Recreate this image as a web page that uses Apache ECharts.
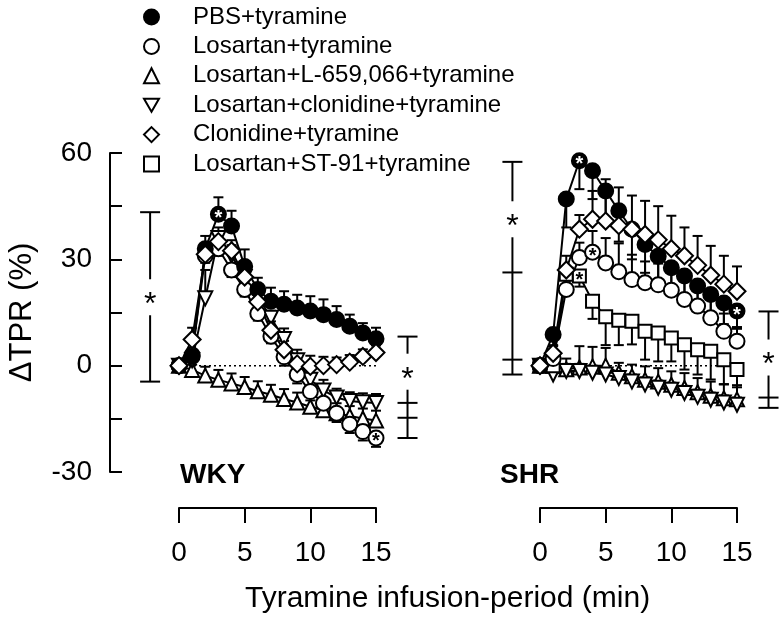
<!DOCTYPE html>
<html><head><meta charset="utf-8">
<script src="https://cdn.jsdelivr.net/npm/echarts@6/dist/echarts.min.js"></script>
<style>html,body{margin:0;padding:0;background:#fff}#c{width:784px;height:628px}</style>
</head><body><div id="c"></div>
<script>
const FONT = "'Liberation Sans', Arial, sans-serif";
const minutes = [0,1,2,3,4,5,6,7,8,9,10,11,12,13,14,15];
const seriesNames = ['PBS+tyramine','Losartan+tyramine','Losartan+L-659,066+tyramine','Losartan+clonidine+tyramine','Clonidine+tyramine','Losartan+ST-91+tyramine'];
const yTicks = [-30, 0, 30, 60];
const xTicks = [0, 5, 10, 15];

// WKY panel values (ΔTPR %)
const wkyPbs    = [0, 2.6, 33, 42.7, 39.4, 28, 21.5, 18.2, 17.3, 16.3, 15.4, 14.4, 13, 11.1, 9.2, 7.6];
const wkyLos    = [0, 3, 31, 33, 27, 21.5, 14.7, 8.3, 2.5, -2.5, -7.3, -10.6, -13.4, -16.5, -18.6, -20.4];
const wkyL659   = [0, -1.2, -2.8, -4.0, -5.0, -6.0, -7.2, -8.2, -9.4, -10.4, -11.6, -12.6, -13.4, -14.2, -14.9, -15.5];
const wkyLosClo = [0, 1.5, 19, 36, 31, 25, 19.5, 13.5, 7.5, 1.5, -4, -7, -9, -10, -10.3, -10.5];
const wkyClo    = [0, 7.4, 31.4, 35, 32.4, 25, 18, 10, 4.5, 0.5, -0.2, 0, 0.3, 1, 2.6, 3.7];
// WKY error bars (SEM)
const wkyPbsErr    = [0, 0, 3.6, 4.8, 4.3, 4.8, 3.3, 3.8, 3.7, 3.7, 4.2, 4.3, 3.8, 3.3, 2.8, 3.1];
const wkyLosErr    = [0, 0, 2, 2, 2, 2, 2, 2, 2.5, 2.5, 2.5, 2.5, 2.5, 2.5, 2.5, 2.5];
const wkyL659Err   = [0, 1.5, 2.5, 2.8, 2.8, 2.8, 2.8, 2.8, 2.8, 2.8, 2.8, 2.8, 2.8, 2.8, 2.8, 2.8];
const wkyLosCloErr = [0, 2, 8, 3, 3, 3, 3, 2, 3, 3, 3, 3, 2.5, 2.5, 2.5, 2.5];
const wkyCloErr    = [0, 3.3, 3, 3, 3, 3, 2.5, 2.5, 2.5, 2.5, 3, 2.5, 2, 2, 2, 2];

// SHR panel values (ΔTPR %)
const shrPbs    = [0, 8.8, 47, 57.8, 55, 49.3, 43.7, 38.5, 34.2, 30.9, 27.6, 25.3, 22.5, 20.1, 17.7, 15.4];
const shrLos    = [0, 2, 21.5, 30.5, 32, 29, 26.5, 24.3, 23.4, 22.8, 21.3, 18.7, 16.8, 13.5, 9.7, 6.9];
const shrL659   = [0, 0, -1, -0.5, -0.2, 0, -2, -3, -4, -4.5, -5.4, -6.3, -7.5, -8.5, -9.2, -9.5];
const shrLosClo = [0, -2.5, -1.5, -1.5, -2, -2.5, -3.5, -4.5, -5.3, -6.2, -6.8, -7.7, -8.8, -9.6, -10.4, -11];
const shrClo    = [0, 3.5, 27, 38.5, 41.3, 40.8, 39.5, 38.5, 37, 35.5, 33, 31, 28.3, 25.5, 23, 21];
const shrSt91   = [0, 0, 25.8, 25.3, 18.2, 13.8, 12.8, 12.5, 9.7, 9.2, 7.8, 5.9, 4.5, 4.1, 1.7, -1.1];
// SHR error bars (SEM)
const shrPbsErr    = [0, 3, 8, 8, 8, 8.5, 8.7, 8.5, 8, 7.5, 6.6, 6.6, 6.2, 6, 6, 5];
const shrLosErr    = [0, 2, 5, 4.2, 6, 7, 8, 7, 6, 6, 5.5, 5, 5, 5, 5, 4];
const shrL659Err   = [0, 1, 3, 6, 5.5, 5, 2.8, 3.3, 3.8, 3.8, 3.8, 4.2, 4, 4, 4, 4];
const shrLosCloErr = [0, 1, 2, 2, 2, 2, 2, 2, 2, 2, 2, 2, 2, 2, 2, 2];
const shrCloErr    = [0, 2, 4, 4, 8, 11.8, 10.8, 9.5, 9.5, 9.5, 9.3, 8, 8.3, 8.3, 8, 7];
const shrSt91Err   = [0, 0, 3, 3, 5, 8, 7, 6.5, 8, 8, 6.6, 7, 7, 8, 7, 5];

// significance asterisks on symbols: [panel, series, minute]
const sigMarks = [[0, 'PBS+tyramine', 3], [0, 'Losartan+tyramine', 15], [1, 'PBS+tyramine', 3], [1, 'PBS+tyramine', 15], [1, 'Losartan+tyramine', 4], [1, 'Losartan+ST-91+tyramine', 3]];

// significance brackets: panel, minute position, cap values, star value
const brackets = [
  {panel: 0, t: -2.2, caps: [43.3, -4.5], star: 19.3},
  {panel: 0, t: 17.4, caps: [8.2, -10.5, -14.7, -20.4], star: -1.7},
  {panel: 1, t: -2.1, caps: [57.5, 26.3, 1.7, -2.5], star: 41.3},
  {panel: 1, t: 17.4, caps: [15.3, -9, -11.9], star: 2.3}
];

const panels = [
  {name: 'WKY', data: {
    'PBS+tyramine': [wkyPbs, wkyPbsErr, 1],
    'Losartan+tyramine': [wkyLos, wkyLosErr, -1],
    'Losartan+L-659,066+tyramine': [wkyL659, wkyL659Err, 1],
    'Losartan+clonidine+tyramine': [wkyLosClo, wkyLosCloErr, 1],
    'Clonidine+tyramine': [wkyClo, wkyCloErr, 1]
  }},
  {name: 'SHR', data: {
    'PBS+tyramine': [shrPbs, shrPbsErr, -1],
    'Losartan+tyramine': [shrLos, shrLosErr, 1],
    'Losartan+L-659,066+tyramine': [shrL659, shrL659Err, 1],
    'Losartan+clonidine+tyramine': [shrLosClo, shrLosCloErr, 1],
    'Clonidine+tyramine': [shrClo, shrCloErr, 1],
    'Losartan+ST-91+tyramine': [shrSt91, shrSt91Err, -1]
  }}
];

const TRI_DOWN = 'path://M0,0L20,0L10,17.32Z';
const styles = {
  'PBS+tyramine': {symbol: 'circle', size: 15, fill: '#000', star: '#fff'},
  'Losartan+tyramine': {symbol: 'circle', size: 15, fill: '#fff', star: '#000'},
  'Losartan+L-659,066+tyramine': {symbol: 'triangle', size: 14, fill: '#fff', star: '#000'},
  'Losartan+clonidine+tyramine': {symbol: TRI_DOWN, size: 14, fill: '#fff', star: '#000'},
  'Clonidine+tyramine': {symbol: 'diamond', size: 17, fill: '#fff', star: '#000'},
  'Losartan+ST-91+tyramine': {symbol: 'rect', size: 13, fill: '#fff', star: '#000'}
};
const drawOrder = ['Losartan+L-659,066+tyramine', 'Losartan+clonidine+tyramine', 'Losartan+ST-91+tyramine', 'Losartan+tyramine', 'PBS+tyramine', 'Clonidine+tyramine'];

const series = [];
panels.forEach((p, gi) => {
  series.push({type: 'line', xAxisIndex: gi, yAxisIndex: gi, data: [[0, 0], [15, 0]], symbol: 'none', silent: true,
    lineStyle: {color: '#000', width: 1.5, type: [2, 3]}, z: 1});
  drawOrder.forEach(nm => {
    if (!p.data[nm]) return;
    const vals = p.data[nm][0];
    series.push({type: 'line', xAxisIndex: gi, yAxisIndex: gi, data: vals.map((v, i) => [minutes[i], v]),
      symbol: 'none', silent: true, lineStyle: {color: '#000', width: 2}, z: 2});
  });
  drawOrder.forEach(nm => {
    if (!p.data[nm]) return;
    const [vals, errs, dir] = p.data[nm];
    series.push({type: 'custom', xAxisIndex: gi, yAxisIndex: gi, silent: true, z: 3,
      data: vals.map((v, i) => [minutes[i], v, errs[i]]),
      encode: {x: 0, y: 1},
      renderItem: (params, api) => {
        const t = api.value(0), v = api.value(1), e = api.value(2);
        if (!e) return {type: 'group', children: []};
        const a = api.coord([t, v]), b = api.coord([t, v + dir * e]);
        return {type: 'group', children: [
          {type: 'line', shape: {x1: a[0], y1: a[1], x2: b[0], y2: b[1]}, style: {stroke: '#000', lineWidth: 2}},
          {type: 'line', shape: {x1: b[0] - 5, y1: b[1], x2: b[0] + 5, y2: b[1]}, style: {stroke: '#000', lineWidth: 2}}
        ]};
      }
    });
  });
  drawOrder.forEach(nm => {
    if (!p.data[nm]) return;
    const st = styles[nm];
    const vals = p.data[nm][0];
    series.push({type: 'scatter', name: nm, xAxisIndex: gi, yAxisIndex: gi, z: 4,
      symbol: st.symbol, symbolSize: st.size,
      itemStyle: {color: st.fill, borderColor: '#000', borderWidth: 2, opacity: 1},
      data: vals.map((v, i) => {
        const marked = sigMarks.some(m => m[0] === gi && m[1] === nm && m[2] === minutes[i]);
        const item = {value: [minutes[i], v]};
        if (marked) item.label = {show: true, formatter: '*', position: 'inside', color: st.star,
          fontSize: 20, fontWeight: 'bold', fontFamily: FONT, offset: [0, 4]};
        return item;
      })
    });
  });
  const myBrackets = brackets.filter(b => b.panel === gi);
  series.push({type: 'custom', xAxisIndex: gi, yAxisIndex: gi, silent: true, z: 5, clip: false,
    data: myBrackets.map(b => [b.t, b.caps[0], b.caps[b.caps.length - 1], b.star]),
    encode: {x: 0, y: 1},
    renderItem: (params, api) => {
      const b = myBrackets[params.dataIndex];
      const top = api.coord([b.t, b.caps[0]]), bot = api.coord([b.t, b.caps[b.caps.length - 1]]);
      const s = api.coord([b.t, b.star]);
      const gap = 18;
      const ch = [
        {type: 'line', shape: {x1: top[0], y1: top[1], x2: top[0], y2: s[1] - gap}, style: {stroke: '#000', lineWidth: 2}},
        {type: 'line', shape: {x1: top[0], y1: s[1] + gap, x2: top[0], y2: bot[1]}, style: {stroke: '#000', lineWidth: 2}},
        {type: 'text', style: {x: s[0], y: s[1] + 8, text: '*', font: '32px ' + FONT, fill: '#000', align: 'center', verticalAlign: 'middle'}}
      ];
      b.caps.forEach(c => {
        const q = api.coord([b.t, c]);
        ch.push({type: 'line', shape: {x1: q[0] - 10, y1: q[1], x2: q[0] + 10, y2: q[1]}, style: {stroke: '#000', lineWidth: 2}});
      });
      return {type: 'group', children: ch};
    }
  });
});

const gridTop = 153, gridH = 319;
const option = {
  animation: false,
  backgroundColor: '#fff',
  textStyle: {fontFamily: FONT, color: '#000'},
  grid: [
    {left: 179, top: gridTop, width: 197, height: gridH},
    {left: 540, top: gridTop, width: 197, height: gridH}
  ],
  xAxis: [0, 1].map(gi => ({type: 'value', gridIndex: gi, min: 0, max: 15, interval: 5, position: 'bottom', offset: 36,
    axisLine: {show: true, onZero: false, lineStyle: {color: '#000', width: 2}},
    axisTick: {show: true, length: 15, lineStyle: {color: '#000', width: 2}},
    axisLabel: {fontSize: 28, color: '#000', margin: 31, fontFamily: FONT, formatter: v => xTicks.includes(v) ? String(v) : ''},
    splitLine: {show: false}})),
  yAxis: [
    {type: 'value', gridIndex: 0, min: -30, max: 60, interval: 15, offset: 69,
      axisLine: {show: true, onZero: false, lineStyle: {color: '#000', width: 2}},
      axisTick: {show: true, inside: true, length: 12, lineStyle: {color: '#000', width: 2}},
      axisLabel: {fontSize: 28, color: '#000', margin: 18, fontFamily: FONT, formatter: v => yTicks.includes(v) ? String(v) : ''},
      splitLine: {show: false},
      name: 'ΔTPR (%)', nameLocation: 'middle', nameGap: 72, nameRotate: 90,
      nameTextStyle: {fontSize: 31, color: '#000', fontFamily: FONT}},
    {type: 'value', gridIndex: 1, min: -30, max: 60, interval: 15, show: false}
  ],
  legend: {orient: 'vertical', left: 138, top: 0, padding: 5, itemWidth: 15, itemHeight: 15, itemGap: 5.4, selectedMode: false,
    data: seriesNames.map(nm => ({name: nm, icon: styles[nm].symbol})),
    textStyle: {fontSize: 24, lineHeight: 24, color: '#000', fontFamily: FONT, padding: [0, 0, 0, 29]}},
  graphic: [
    {type: 'text', left: 180, top: 461, style: {text: 'WKY', font: 'bold 28px ' + FONT, fill: '#000'}},
    {type: 'text', left: 500, top: 461, style: {text: 'SHR', font: 'bold 28px ' + FONT, fill: '#000'}},
    {type: 'text', left: 245, top: 584, style: {text: 'Tyramine infusion-period (min)', font: '30px ' + FONT, fill: '#000'}}
  ],
  series: series
};
const chart = echarts.init(document.getElementById('c'), null, {renderer: 'canvas'});
chart.setOption(option);
</script>
</body></html>
